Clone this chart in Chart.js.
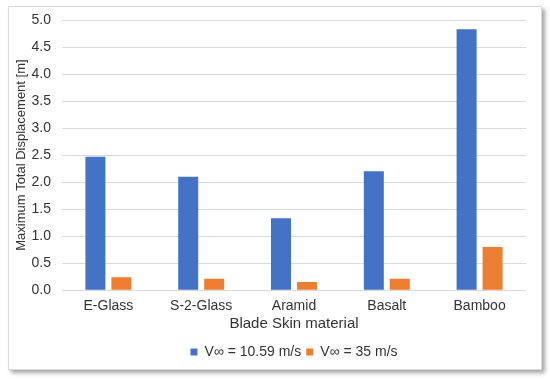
<!DOCTYPE html>
<html>
<head>
<meta charset="utf-8">
<script src="https://cdn.jsdelivr.net/npm/chart.js@4/dist/chart.umd.min.js"></script>
<style>
  html, body { margin: 0; padding: 0; background: #ffffff; }
  #frame {
    position: absolute; left: 8px; top: 6px; width: 532px; height: 362px;
    border: 1px solid #d9d9d9; background: #ffffff;
    box-shadow: 3px 3px 4px rgba(0,0,0,0.35);
  }
  #c { display: block; }
</style>
</head>
<body>
<div id="frame"><canvas id="c" width="532" height="362"></canvas></div>
<script>
const categories = ["E-Glass", "S-2-Glass", "Aramid", "Basalt", "Bamboo"];
const seriesNames = ["V\u221E = 10.59 m/s", "V\u221E = 35 m/s"];
const lowSpeed = [2.47, 2.10, 1.33, 2.20, 4.83];
const highSpeed = [0.24, 0.21, 0.15, 0.21, 0.80];
const yTicks = [0, 0.5, 1, 1.5, 2, 2.5, 3, 3.5, 4, 4.5, 5];
const xTitle = "Blade Skin material";
const yTitle = "Maximum Total Displacement [m]";

const FONT = "'Liberation Sans', Arial, sans-serif";
const TXT = "#333333";

new Chart(document.getElementById("c"), {
  type: "bar",
  data: {
    labels: categories,
    datasets: [
      { label: seriesNames[0], data: lowSpeed, backgroundColor: "#4472C4",
        barPercentage: 0.77, categoryPercentage: 0.56 },
      { label: seriesNames[1], data: highSpeed, backgroundColor: "#ED7D31",
        barPercentage: 0.77, categoryPercentage: 0.56 }
    ]
  },
  options: {
    responsive: false,
    animation: false,
    devicePixelRatio: 1,
    layout: { padding: { left: 0, right: 15, top: 13, bottom: 0 } },
    plugins: {
      legend: {
        position: "bottom",
        fullSize: false,
        labels: {
          font: { family: FONT, size: 14 }, color: TXT,
          boxWidth: 7, boxHeight: 7, padding: 5
        }
      },
      tooltip: { enabled: false }
    },
    scales: {
      x: {
        grid: { display: false, drawTicks: false },
        border: { display: false },
        ticks: { font: { family: FONT, size: 14 }, color: TXT, padding: 7.5 },
        title: { display: true, text: xTitle, font: { family: FONT, size: 15 }, color: TXT, padding: { top: -7, bottom: 7 } }
      },
      y: {
        min: 0, max: 5,
        afterFit: (s) => { s.width = 53; s.paddingTop = 0; s.paddingBottom = 0; },
        afterBuildTicks: (s) => { s.ticks = yTicks.map(v => ({ value: v })); },
        grid: { color: "#d9d9d9", drawTicks: false, lineWidth: 1 },
        border: { display: false },
        ticks: { font: { family: FONT, size: 14 }, color: TXT, padding: 11,
          callback: (v) => Number(v).toFixed(1) },
        title: { display: true, text: yTitle, font: { family: FONT, size: 13 }, color: TXT,
          padding: { top: 5, bottom: 0 } }
      }
    }
  }
});
</script>
</body>
</html>
